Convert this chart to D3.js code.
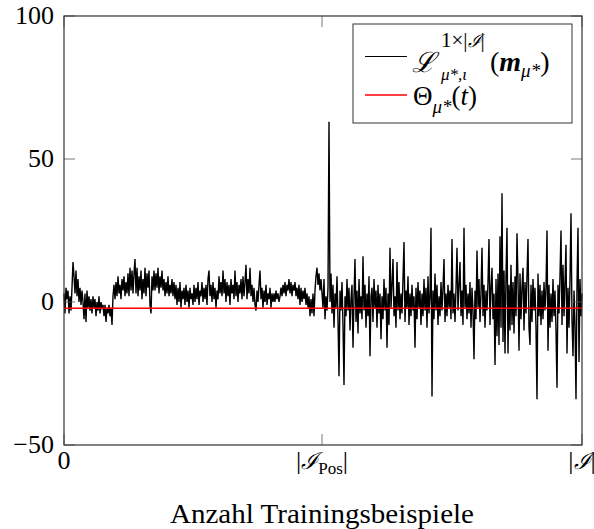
<!DOCTYPE html>
<html>
<head>
<meta charset="utf-8">
<script src="https://cdn.jsdelivr.net/npm/d3@7"></script>
<style>
body { margin: 0; background: #fff; }
text { font-family: "Liberation Serif", "DejaVu Serif", serif; fill: #000; }
.cal { font-family: "DejaVu Serif", serif; font-style: italic; }
</style>
</head>
<body>
<svg id="chart" width="594" height="529"></svg>
<script>
// values, roughly one sample per pixel column
const firstHalf = [
	3, -4, 5, 1, 4, -4, 2, -3, 5, 14,
	9, 3, 11, 2, 8, 0, 5, -1, 4, 0,
	-6, 3, -7, 4, -2, 2, -3, 1, -4, 2,
	-2, 1, -5, 0, -3, 2, -4, 0, -2, -1,
	-5, -1, -7, -2, -4, -1, -5, -2, -8, 2,
	6, 1, 7, 2, 9, 3, 6, 1, 8, 4,
	9, 2, 7, 3, 10, 2, 12, 4, 11, 3,
	10, 15, 3, 12, 2, 9, 4, 11, 1, 8,
	3, 12, 2, 10, 5, 11, -1, -4, 9, 4,
	11, 4, 10, 5, 12, 3, 9, 5, 11, 4,
	8, 2, 7, 3, 9, 2, 6, 3, 8, 2,
	7, 1, 6, -1, 5, 0, 7, -2, 4, 1,
	5, -1, 6, 0, 4, -2, 5, 1, 3, -1,
	6, 0, 5, 1, 7, -1, 4, 2, 7, 0,
	5, 1, 6, -1, 8, 11, 2, 6, 0, 7,
	1, 5, -2, 4, 1, 9, 3, 7, 2, 11,
	3, 8, 0, 7, 2, 6, -1, 8, 3, 6,
	1, 11, 2, 7, 0, 6, 3, 8, 1, 9,
	2, 7, 13, 1, 8, 3, 12, 2, 6, 0,
	5, -1, -3, 4, 0, 6, 11, 1, 5, -2,
	4, 0, 6, -1, 3, 1, 5, -2, 3, 0,
	3, 0, 4, 1, 3, 0, 2, 5, 2, 6,
	3, 7, 2, 6, 4, 8, 3, 7, 2, 6,
	4, 7, 2, 5, 1, 6, -1, 5, 0, 4,
	1, 5, -1, 3, -2, 2, -5, 1, -4, 3,
	-5, 4, 9, 12, 6, 10, 4, 8
]
const secondHalf = [
	3, -2, 8, -6, 2, -3, 5, 63, 0, 10,
	-4, 6, -9, 3, -2, 9, -6, -26, 4, -3,
	7, -8, -29, 2, -5, 8, -3, 5, -10, 1,
	6, -16, 2, 15, -7, 4, -11, 8, -4, 2,
	-6, 16, -3, 6, -9, 3, -5, 9, -19, 2,
	5, -7, 8, -2, 4, -9, 6, -4, 3, -13,
	2, -6, 8, -3, 5, -16, 3, -8, 19, -2,
	6, 15, -5, 2, -9, 14, -3, 7, -6, 3,
	-4, 8, 21, -7, 4, -2, 9, -8, 3, -5,
	6, -3, 2, -16, 5, -6, 7, -2, 4, -8,
	3, -5, 8, -3, 5, -9, 9, -4, 2, 26,
	-33, 4, -6, 10, -3, 6, -8, 2, -5, 7,
	-3, 5, 15, -7, 3, -5, 6, -2, 4, -6,
	22, -4, 3, -7, 5, 19, -3, 6, 14, -5,
	4, -8, 26, -2, 6, -6, 3, -4, 7, -9,
	5, -3, -20, 4, -6, 18, -2, 8, -7, 3,
	19, -5, 6, -9, 4, -3, 7, 22, -8, 5,
	12, -6, 3, -22, 8, -12, 10, -15, 23, -9,
	38, -14, 11, -18, 9, 26, -18, 6, -10, 13,
	-8, 7, -11, 9, -5, 24, 8, -17, 10, -6,
	5, 12, -10, 7, -4, 9, 22, -9, -15, 6,
	-7, 8, -3, 5, -9, -34, 10, -5, 6, -8,
	4, -6, 7, -3, 5, 25, -17, 6, -9, 3,
	-7, 8, -5, 4, -10, -30, 6, -4, 9, 25,
	-8, 13, -5, 7, 20, -18, 5, -9, 8, 31,
	-6, -19, 4, -8, -34, 6, 26, -21, 8, -5, 3
]
const threshold = -2.2
const yTicks = [-50, 0, 50, 100]

const series = firstHalf.concat(secondHalf)
const posCount = firstHalf.length
const total = series.length - 1
const xTicks = [0, posCount, total]

const margin = { top: 16, right: 12, bottom: 84, left: 64 }
const svg = d3.select('#chart')
const width = 594 - margin.left - margin.right
const height = 529 - margin.top - margin.bottom

const x = d3.scaleLinear().domain([0, total]).range([margin.left, margin.left + width])
const y = d3.scaleLinear().domain([-50, 100]).range([margin.top + height, margin.top])

const g = svg.append('g')

// data line
g.append('path')
	.datum(series)
	.attr('fill', 'none')
	.attr('stroke', '#000')
	.attr('stroke-width', 1.4)
	.attr('d', d3.line().x((d, i) => x(i)).y((d) => y(d)))

// threshold
g.append('line')
	.attr('x1', x(0))
	.attr('x2', x(total))
	.attr('y1', y(threshold))
	.attr('y2', y(threshold))
	.attr('stroke', '#f00')
	.attr('stroke-width', 1.4)

// frame + inward ticks on all four sides
const tickLen = 11
const tickStyle = (sel) => sel.attr('stroke', '#555').attr('stroke-width', 0.8)
yTicks.forEach((t) => {
	g.append('line').attr('x1', x(0)).attr('x2', x(0) + tickLen)
		.attr('y1', y(t)).attr('y2', y(t)).call(tickStyle)
	g.append('line').attr('x1', x(total)).attr('x2', x(total) - tickLen)
		.attr('y1', y(t)).attr('y2', y(t)).call(tickStyle)
})
xTicks.forEach((t) => {
	g.append('line').attr('x1', x(t)).attr('x2', x(t))
		.attr('y1', y(-50)).attr('y2', y(-50) - tickLen).call(tickStyle)
	g.append('line').attr('x1', x(t)).attr('x2', x(t))
		.attr('y1', y(100)).attr('y2', y(100) + tickLen).call(tickStyle)
})
g.append('rect')
	.attr('x', x(0)).attr('y', y(100))
	.attr('width', x(total) - x(0)).attr('height', y(-50) - y(100))
	.attr('fill', 'none').attr('stroke', '#333').attr('stroke-width', 1.2)

// y tick labels
g.selectAll('text.ytick')
	.data(yTicks)
	.join('text')
	.attr('class', 'ytick')
	.attr('x', x(0) - 10)
	.attr('y', (d) => y(d) + 8)
	.attr('text-anchor', 'end')
	.style('font-size', '26px')
	.text((d) => (d < 0 ? '\u2212' + Math.abs(d) : d))

// x tick labels
const xl = g.append('g').style('font-size', '26px')
xl.append('text').attr('x', x(0)).attr('y', 469).attr('text-anchor', 'middle').text('0')
const pos = xl.append('text').attr('x', x(posCount)).attr('y', 469).attr('text-anchor', 'middle')
pos.append('tspan').text('|')
pos.append('tspan').attr('class', 'cal').style('font-size', '23px').text('\u2110')
pos.append('tspan').style('font-size', '17px').attr('dy', 5).text('Pos')
pos.append('tspan').attr('dy', -5).text('|')
const all = xl.append('text').attr('x', x(total)).attr('y', 469).attr('text-anchor', 'middle')
all.append('tspan').text('|')
all.append('tspan').attr('class', 'cal').style('font-size', '23px').text('\u2110')
all.append('tspan').text('|')

g.append('text')
	.attr('x', x(posCount))
	.attr('y', 523)
	.attr('text-anchor', 'middle')
	.attr('textLength', 304)
	.attr('lengthAdjust', 'spacingAndGlyphs')
	.style('font-size', '27px')
	.text('Anzahl Trainingsbeispiele')

// legend
const lg = g.append('g')
lg.append('rect')
	.attr('x', 353).attr('y', 24).attr('width', 219).attr('height', 99)
	.attr('fill', '#fff').attr('stroke', '#333').attr('stroke-width', 1)
lg.append('line').attr('x1', 365).attr('x2', 407).attr('y1', 56.5).attr('y2', 56.5)
	.attr('stroke', '#000').attr('stroke-width', 1)
lg.append('line').attr('x1', 365).attr('x2', 407).attr('y1', 95).attr('y2', 95)
	.attr('stroke', '#f00').attr('stroke-width', 1.4)

lg.append('text').attr('x', 412).attr('y', 72).attr('class', 'cal')
	.style('font-size', '28px').text('\u2112')
const sup = lg.append('text').attr('x', 441).attr('y', 47).style('font-size', '21px')
sup.append('tspan').text('1\u00d7|')
sup.append('tspan').attr('class', 'cal').style('font-size', '18px').text('\u2110')
sup.append('tspan').text('|')
lg.append('text').attr('x', 441).attr('y', 80).style('font-size', '17px')
	.style('font-style', 'italic').text('\u03bc*,\u03b9')
const t1b = lg.append('text').attr('x', 490).attr('y', 71).style('font-size', '28px')
t1b.append('tspan').text('(')
t1b.append('tspan').style('font-weight', 'bold').style('font-style', 'italic').text('m')
t1b.append('tspan').attr('dy', 6).style('font-size', '19px').style('font-style', 'italic').text('\u03bc*')
t1b.append('tspan').attr('dy', -6).text(')')

const t2 = lg.append('text').attr('x', 413).attr('y', 105).style('font-size', '27px')
t2.append('tspan').text('\u0398')
t2.append('tspan').attr('dy', 8).style('font-size', '19px').style('font-style', 'italic').text('\u03bc*')
t2.append('tspan').attr('dy', -8).text('(')
t2.append('tspan').style('font-style', 'italic').text('t')
t2.append('tspan').text(')')
</script>
</body>
</html>
